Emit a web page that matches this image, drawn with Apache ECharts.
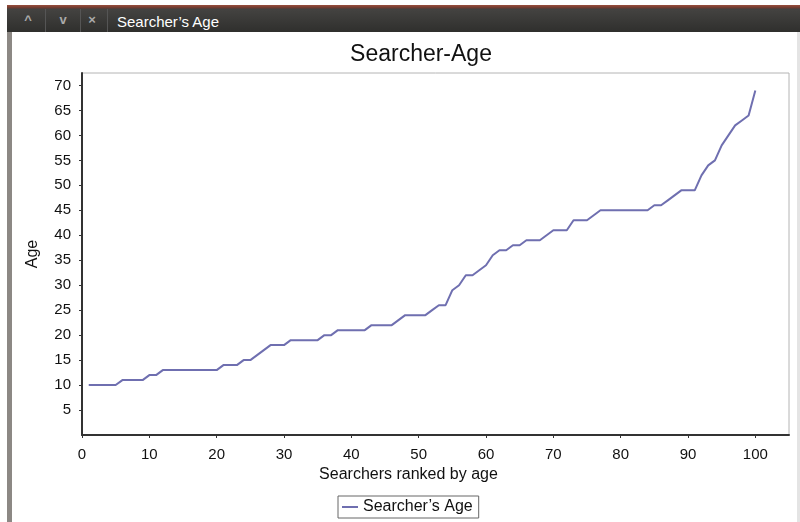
<!DOCTYPE html>
<html>
<head>
<meta charset="utf-8">
<script src="https://cdn.jsdelivr.net/npm/echarts@6/dist/echarts.min.js"></script>
<style>
  html, body { margin: 0; padding: 0; background: #fff; }
  #wrap { position: relative; width: 800px; height: 522px; overflow: hidden; font-family: "Liberation Sans", Arial, sans-serif; }
  #bar { position: absolute; left: 7px; top: 5px; width: 793px; height: 27px;
         background: linear-gradient(#9a4e3c 0px, #6a3a30 3px, #444341 4px, #2f2f2d 27px); }
  .btn { position: absolute; top: 4px; height: 23px; width: 34px; color: #aaa; font-size: 13px;
         text-align: center; line-height: 22px; border-right: 1px solid #555; font-weight: bold; }
  #caption { position: absolute; left: 117px; top: 13px; color: #fff; font-size: 15px; }
  #side { position: absolute; left: 7px; top: 32px; width: 5px; height: 490px; background: #8c8884; }
  #edge { position: absolute; right: 0; top: 32px; width: 3px; height: 490px; background: #e4e4e4; }
  #chart { position: absolute; left: 0; top: 0; width: 800px; height: 522px; }
</style>
</head>
<body>
<div id="wrap">
  <div id="chart"></div>
  <div id="bar">
    <div class="btn" style="left:4px">^</div>
    <div class="btn" style="left:39px">v</div>
    <div class="btn" style="left:70px;width:30px">&#215;</div>
  </div>
  <div id="caption">Searcher’s Age</div>
  <div id="side"></div>
  <div id="edge"></div>
</div>
<script>
// rank of each searcher (1..100)
var ranks = [];
for (var r = 1; r <= 100; r++) { ranks.push(r); }

// age, sorted ascending
var ages = [
  10, 10, 10, 10, 10, 11, 11, 11, 11, 12,
  12, 13, 13, 13, 13, 13, 13, 13, 13, 13,
  14, 14, 14, 15, 15, 16, 17, 18, 18, 18,
  19, 19, 19, 19, 19, 20, 20, 21, 21, 21,
  21, 21, 22, 22, 22, 22, 23, 24, 24, 24,
  24, 25, 26, 26, 29, 30, 32, 32, 33, 34,
  36, 37, 37, 38, 38, 39, 39, 39, 40, 41,
  41, 41, 43, 43, 43, 44, 45, 45, 45, 45,
  45, 45, 45, 45, 46, 46, 47, 48, 49, 49,
  49, 52, 54, 55, 58, 60, 62, 63, 64, 69
];

var xTicks = [0, 10, 20, 30, 40, 50, 60, 70, 80, 90, 100];
var yTicks = [5, 10, 15, 20, 25, 30, 35, 40, 45, 50, 55, 60, 65, 70];

var points = ranks.map(function (x, i) { return [x, ages[i]]; });

var myChart = echarts.init(document.getElementById('chart'));
var font = '"Liberation Sans", Arial, sans-serif';

var option = {
    animation: false,
    backgroundColor: 'transparent',
    title: {
        text: 'Searcher-Age',
        left: 416,
        top: 38,
        textAlign: 'center',
        textStyle: { fontSize: 23, fontWeight: 'normal', color: '#111', fontFamily: font }
    },
    grid: {
        left: 82,
        right: 11,
        top: 73,
        bottom: 87,
        show: true,
        borderColor: '#b4b4b4',
        borderWidth: 1,
        backgroundColor: '#fff'
    },
    xAxis: {
        type: 'value',
        min: 0,
        max: 105,
        offset: 4,
        name: 'Searchers ranked by age',
        nameLocation: 'middle',
        nameGap: 24,
        nameTextStyle: { fontSize: 16, color: '#111', fontFamily: font, padding: [0, 54, 0, 0] },
        axisLine: { show: true, lineStyle: { color: '#333', width: 2 } },
        axisTick: { show: true, length: 3, customValues: xTicks, lineStyle: { color: '#333' } },
        axisLabel: { customValues: xTicks, fontSize: 15, color: '#111', margin: 8, fontFamily: font },
        splitLine: { show: false }
    },
    yAxis: {
        type: 'value',
        min: 0,
        max: 72.5,
        offset: 4,
        name: 'Age',
        nameLocation: 'middle',
        nameGap: 37,
        nameRotate: 90,
        nameTextStyle: { fontSize: 16, color: '#111', fontFamily: font },
        axisLine: { show: true, lineStyle: { color: '#333', width: 2 } },
        axisTick: { show: true, length: 3, customValues: yTicks, lineStyle: { color: '#333' } },
        axisLabel: { customValues: yTicks, fontSize: 15, color: '#111', margin: 7, fontFamily: font },
        splitLine: { show: false }
    },
    legend: {
        left: 338,
        bottom: 4,
        data: ['Searcher’s Age'],
        borderColor: '#666',
        borderWidth: 1,
        padding: [3, 6, 3, 4],
        itemWidth: 16,
        itemHeight: 2,
        itemGap: 4,
        icon: 'rect',
        textStyle: { fontSize: 16, color: '#111', fontFamily: font }
    },
    series: [{
        name: 'Searcher’s Age',
        type: 'line',
        data: points,
        showSymbol: false,
        symbol: 'none',
        lineStyle: { color: '#6f6fb0', width: 2 },
        itemStyle: { color: '#6f6fb0' }
    }]
};
myChart.setOption(option);
</script>
</body>
</html>
